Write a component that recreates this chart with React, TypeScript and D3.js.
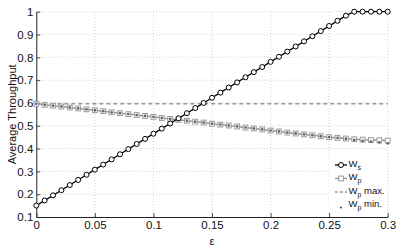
import { useEffect, useRef } from 'react'
import * as d3 from 'd3'

// 43 samples of epsilon over [0, 0.3]
const epsilon = d3.range(43).map((i) => (i * 0.3) / 42)

const ws = [
  0.15, 0.1725, 0.195, 0.2175, 0.24, 0.2625, 0.285, 0.3075, 0.33, 0.3525, 0.375, 0.3975, 0.42, 0.4425, 0.465,
  0.4875, 0.51, 0.5325, 0.555, 0.5775, 0.6, 0.6225, 0.645, 0.6675, 0.69, 0.7125, 0.735, 0.7575, 0.78, 0.8025,
  0.825, 0.8475, 0.87, 0.8925, 0.915, 0.9375, 0.96, 0.9825, 1, 1, 1, 1, 1,
]

const wp = [
  0.596, 0.592, 0.588, 0.584, 0.58, 0.576, 0.572, 0.568, 0.564, 0.559, 0.555, 0.551, 0.547, 0.543, 0.539, 0.534,
  0.53, 0.526, 0.522, 0.518, 0.514, 0.509, 0.505, 0.501, 0.497, 0.492, 0.488, 0.484, 0.479, 0.475, 0.47, 0.466,
  0.462, 0.458, 0.454, 0.45, 0.447, 0.444, 0.441, 0.439, 0.437, 0.436, 0.435,
]

const wpMin = [
  0.596, 0.592, 0.588, 0.584, 0.58, 0.576, 0.572, 0.568, 0.564, 0.559, 0.555, 0.551, 0.547, 0.543, 0.539, 0.534,
  0.53, 0.526, 0.522, 0.518, 0.514, 0.509, 0.505, 0.501, 0.497, 0.492, 0.488, 0.484, 0.479, 0.475, 0.47, 0.466,
  0.462, 0.458, 0.454, 0.45, 0.447, 0.443, 0.438, 0.434, 0.43, 0.427, 0.423,
]

const wpMax = 0.596

const xTicks = [0, 0.05, 0.1, 0.15, 0.2, 0.25, 0.3]
const xTickLabels = ['0', '0.05', '0.1', '0.15', '0.2', '0.25', '0.3']
const yTicks = [0.1, 0.2, 0.3, 0.4, 0.5, 0.6, 0.7, 0.8, 0.9, 1]
const yTickLabels = ['0.1', '0.2', '0.3', '0.4', '0.5', '0.6', '0.7', '0.8', '0.9', '1']

const legendItems = [
  { name: 'W', sub: 's', extra: '', kind: 'ws' },
  { name: 'W', sub: 'p', extra: '', kind: 'wp' },
  { name: 'W', sub: 'p', extra: ' max.', kind: 'max' },
  { name: 'W', sub: 'p', extra: ' min.', kind: 'min' },
]

const FONT = '"Liberation Sans", Arial, Helvetica, sans-serif'

export default function App() {
  const ref = useRef<SVGSVGElement | null>(null)
  useEffect(() => {
    const width = 399
    const height = 247
    const svg = d3.select(ref.current).attr('width', width).attr('height', height)
    svg.selectAll('*').remove()
    svg.append('rect').attr('width', width).attr('height', height).attr('fill', '#fff')

    const x = d3.scaleLinear().domain([0, 0.3]).range([36.3, 387.7])
    const y = d3.scaleLinear().domain([0.1, 1]).range([217, 11.7])
    const [x0, x1] = x.range()
    const [y0, y1] = y.range()

    const g = svg.append('g').style('font-family', FONT)

    // grid
    g.append('g')
      .selectAll('line')
      .data(xTicks.slice(1))
      .enter()
      .append('line')
      .attr('x1', (d: number) => x(d))
      .attr('x2', (d: number) => x(d))
      .attr('y1', y0)
      .attr('y2', y1)
      .attr('stroke', '#c8c8c8')
      .attr('stroke-width', 0.8)
      .attr('stroke-dasharray', '1,2')
    g.append('g')
      .selectAll('line')
      .data(yTicks.slice(1))
      .enter()
      .append('line')
      .attr('x1', x0)
      .attr('x2', x1)
      .attr('y1', (d: number) => y(d))
      .attr('y2', (d: number) => y(d))
      .attr('stroke', '#c8c8c8')
      .attr('stroke-width', 0.8)
      .attr('stroke-dasharray', '1,2')

    // axes
    const xAxis = d3
      .axisBottom(x)
      .tickValues(xTicks)
      .tickFormat((_d: any, i: number) => xTickLabels[i])
      .tickSizeInner(-4)
      .tickSizeOuter(0)
      .tickPadding(3.5)
    const yAxis = d3
      .axisLeft(y)
      .tickValues(yTicks)
      .tickFormat((_d: any, i: number) => yTickLabels[i])
      .tickSizeInner(-4)
      .tickSizeOuter(0)
      .tickPadding(3)
    const gx = g.append('g').attr('transform', `translate(0,${y0})`).call(xAxis as any)
    const gy = g.append('g').attr('transform', `translate(${x0},0)`).call(yAxis as any)
    for (const a of [gx, gy]) {
      a.selectAll('.domain').attr('stroke', '#222').attr('stroke-width', 1)
      a.selectAll('.tick line').attr('stroke', '#222').attr('stroke-width', 0.8)
      a.selectAll('.tick text').attr('fill', '#111').style('font-size', '11.5px').style('font-family', FONT)
    }

    // axis titles
    g.append('text')
      .attr('transform', `translate(15.5,${(y0 + y1) / 2}) rotate(-90)`)
      .attr('text-anchor', 'middle')
      .style('font-size', '11px')
      .attr('fill', '#111')
      .text('Average Throughput')
    g.append('text')
      .attr('x', (x0 + x1) / 2)
      .attr('y', 245)
      .attr('text-anchor', 'middle')
      .style('font-size', '11px')
      .attr('fill', '#111')
      .text('ε')

    const line = d3
      .line<number>()
      .x((_d: number, i: number) => x(epsilon[i]))
      .y((d: number) => y(d))

    // Wp max
    g.append('line')
      .attr('x1', x(0))
      .attr('x2', x(0.3))
      .attr('y1', y(wpMax))
      .attr('y2', y(wpMax))
      .attr('stroke', '#666')
      .attr('stroke-width', 1)
      .attr('stroke-dasharray', '4,3')

    // Wp
    g.append('path').datum(wp).attr('fill', 'none').attr('stroke', '#999').attr('stroke-width', 1.5).attr('d', line as any)
    g.append('g')
      .selectAll('rect')
      .data(wp)
      .enter()
      .append('rect')
      .attr('x', (_d: number, i: number) => x(epsilon[i]) - 2.4)
      .attr('y', (d: number) => y(d) - 2.4)
      .attr('width', 4.8)
      .attr('height', 4.8)
      .attr('fill', '#fff')
      .attr('stroke', '#9a9a9a')
      .attr('stroke-width', 1)

    // Wp min
    g.append('g')
      .selectAll('circle')
      .data(wpMin)
      .enter()
      .append('circle')
      .attr('cx', (_d: number, i: number) => x(epsilon[i]))
      .attr('cy', (d: number) => y(d))
      .attr('r', 1.4)
      .attr('fill', '#666')

    // Ws
    g.append('path').datum(ws).attr('fill', 'none').attr('stroke', '#000').attr('stroke-width', 1.3).attr('d', line as any)
    g.append('g')
      .selectAll('circle')
      .data(ws)
      .enter()
      .append('circle')
      .attr('cx', (_d: number, i: number) => x(epsilon[i]))
      .attr('cy', (d: number) => y(d))
      .attr('r', 2.5)
      .attr('fill', '#fff')
      .attr('stroke', '#000')
      .attr('stroke-width', 1)

    // legend
    const lg = g.append('g')
    lg.append('rect').attr('x', 329).attr('y', 154).attr('width', 58).attr('height', 58).attr('fill', '#fff')
    legendItems.forEach((it, i) => {
      const cy = 165 + i * 13.5
      const row = lg.append('g')
      if (it.kind === 'ws') {
        row.append('line').attr('x1', 335).attr('x2', 347).attr('y1', cy).attr('y2', cy).attr('stroke', '#000').attr('stroke-width', 1.3)
        row.append('circle').attr('cx', 341).attr('cy', cy).attr('r', 2.5).attr('fill', '#fff').attr('stroke', '#000')
      } else if (it.kind === 'wp') {
        row.append('line').attr('x1', 335).attr('x2', 347).attr('y1', cy).attr('y2', cy).attr('stroke', '#999').attr('stroke-width', 1.5)
        row.append('rect').attr('x', 338.6).attr('y', cy - 2.4).attr('width', 4.8).attr('height', 4.8).attr('fill', '#fff').attr('stroke', '#9a9a9a')
      } else if (it.kind === 'max') {
        row.append('line').attr('x1', 335).attr('x2', 347).attr('y1', cy).attr('y2', cy).attr('stroke', '#666').attr('stroke-dasharray', '3,2')
      } else {
        row.append('circle').attr('cx', 341).attr('cy', cy + 2).attr('r', 1.1).attr('fill', '#555')
      }
      const t = row
        .append('text')
        .attr('x', 348.5)
        .attr('y', cy + 1.5)
        .style('font-size', '9.5px')
        .attr('fill', '#111')
      t.append('tspan').text(it.name)
      t.append('tspan').attr('dy', 3).style('font-size', '7px').text(it.sub)
      if (it.extra) t.append('tspan').attr('dy', -3).text(it.extra)
    })
  }, [])
  return <svg ref={ref} style={{ position: 'absolute', left: 0, top: 0 }} />
}
